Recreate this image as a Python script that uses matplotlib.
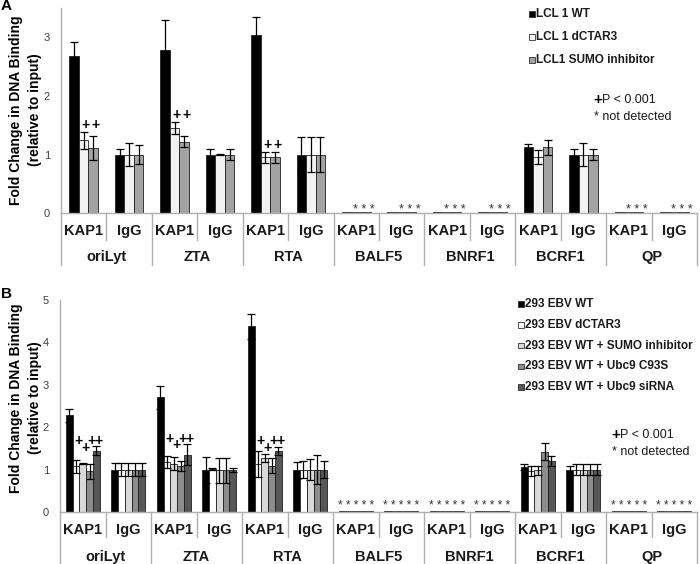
import matplotlib
matplotlib.use("Agg")
import matplotlib.pyplot as plt
from matplotlib import transforms
from matplotlib.patches import Rectangle
import numpy as np

plt.rcParams['font.family'] = ['Liberation Sans', 'DejaVu Sans']

genes = ["oriLyt", "ZTA", "RTA", "BALF5", "BNRF1", "BCRF1", "QP"]
antibodies = ["KAP1", "IgG"]

# panel A - 14 groups: (gene, antibody) pairs
a_labels = ["LCL 1 WT", "LCL 1 dCTAR3", "LCL1 SUMO inhibitor"]
a_colors = ["#000000", "#f2f2f2", "#a3a3a3"]
a_vals = [
    [2.67, 1.00, 2.77, 1.00, 3.03, 1.00, 0.015, 0.015, 0.015, 0.015, 1.13, 0.99, 0.015, 0.015],
    [1.24, 1.00, 1.45, 1.00, 0.95, 1.00, 0.015, 0.015, 0.015, 0.015, 0.95, 1.00, 0.015, 0.015],
    [1.11, 1.00, 1.22, 1.00, 0.95, 1.00, 0.015, 0.015, 0.015, 0.015, 1.12, 1.00, 0.015, 0.015],
]
a_errs = [
    [0.25, 0.10, 0.51, 0.10, 0.31, 0.30, 0, 0, 0, 0, 0.05, 0.11, 0, 0],
    [0.14, 0.20, 0.10, 0.01, 0.09, 0.30, 0, 0, 0, 0, 0.12, 0.20, 0, 0],
    [0.20, 0.17, 0.10, 0.10, 0.09, 0.30, 0, 0, 0, 0, 0.12, 0.10, 0, 0],
]
a_sig_groups = [0, 2, 4]
a_sig_series = [1, 2]
a_nd_groups = [6, 7, 8, 9, 12, 13]

# panel B
b_labels = ["293 EBV WT", "293 EBV dCTAR3", "293 EBV WT + SUMO inhibitor",
            "293 EBV WT + Ubc9 C93S", "293 EBV WT + Ubc9 siRNA"]
b_colors = ["#000000", "#ffffff", "#d9d9d9", "#8c8c8c", "#575757"]
b_vals = [
    [2.28, 1.00, 2.71, 0.99, 4.38, 0.99, 0.02, 0.02, 0.02, 0.02, 1.06, 0.98, 0.02, 0.02],
    [1.08, 1.00, 1.18, 1.01, 1.13, 1.00, 0.02, 0.02, 0.02, 0.02, 0.97, 1.00, 0.02, 0.02],
    [1.14, 1.00, 1.14, 0.98, 1.27, 1.00, 0.02, 0.02, 0.02, 0.02, 0.98, 1.00, 0.02, 0.02],
    [0.96, 1.00, 1.08, 0.98, 1.09, 1.00, 0.02, 0.02, 0.02, 0.02, 1.42, 1.00, 0.02, 0.02],
    [1.45, 1.00, 1.35, 0.99, 1.44, 1.00, 0.02, 0.02, 0.02, 0.02, 1.20, 1.00, 0.02, 0.02],
]
b_errs = [
    [0.15, 0.15, 0.27, 0.30, 0.29, 0.20, 0, 0, 0, 0, 0.08, 0.10, 0, 0],
    [0.15, 0.15, 0.15, 0.02, 0.31, 0.20, 0, 0, 0, 0, 0.12, 0.13, 0, 0],
    [0.01, 0.15, 0.15, 0.30, 0.10, 0.24, 0, 0, 0, 0, 0.10, 0.13, 0, 0],
    [0.17, 0.15, 0.12, 0.30, 0.18, 0.35, 0, 0, 0, 0, 0.20, 0.13, 0, 0],
    [0.10, 0.15, 0.25, 0.05, 0.10, 0.20, 0, 0, 0, 0, 0.12, 0.13, 0, 0],
]
b_sig_groups = [0, 2, 4]
b_sig_series = [1, 2, 3, 4]
b_nd_groups = [6, 7, 8, 9, 12, 13]

W, H = 700, 564
fig = plt.figure(figsize=(W / 100, H / 100), dpi=100)

AXIS_GREY = "#b0b0b0"
TICK_GREY = "#404040"


def px_rect(left, top, right, bottom):
    return [left / W, 1 - bottom / H, (right - left) / W, (bottom - top) / H]


def draw_panel(ax, vals, errs, colors, width, ylim, yticks,
               sig_groups, sig_series, nd_groups, stars, star_size, star_dx,
               star_y, lowered, short_px, long_px, lab1_px, lab2_px):
    n = len(vals)
    ngroups = len(vals[0])
    x = np.arange(ngroups) + 0.5
    offsets = (np.arange(n) - (n - 1) / 2) * width
    for i in range(n):
        ax.bar(x + offsets[i], vals[i], width, color=colors[i],
               edgecolor="#202020", linewidth=0.6, zorder=2)
        e = np.array(errs[i])
        m = e > 0
        ax.errorbar(x[m] + offsets[i], np.array(vals[i])[m], yerr=e[m],
                    fmt="none", ecolor="black", elinewidth=0.9,
                    capsize=3, capthick=0.9, zorder=3)

    ax.set_xlim(0, ngroups)
    ax.set_ylim(*ylim)
    ax.set_yticks(yticks)
    ax.set_xticks([])
    ax.tick_params(axis="y", length=0, pad=8, labelsize=8, labelcolor=TICK_GREY)
    for s in ["top", "right"]:
        ax.spines[s].set_visible(False)
    ax.spines["left"].set_color(AXIS_GREY)
    ax.spines["bottom"].set_color(AXIS_GREY)
    ax.spines["left"].set_linewidth(1.0)
    ax.spines["bottom"].set_linewidth(1.0)

    # significance plus signs
    for g in sig_groups:
        top = max(vals[s][g] + errs[s][g] for s in sig_series)
        for k, s in enumerate(sig_series):
            y = top + 0.13
            if lowered and k == 1:
                y -= 0.16
            ax.text(x[g] + offsets[s] + 0.05, y, "+", ha="center", va="center",
                    fontsize=10, fontweight="bold", zorder=4)

    # not detected stars
    for g in nd_groups:
        ax.text(x[g] + star_dx, star_y, stars, ha="center", va="baseline",
                fontsize=star_size, color="#333333", zorder=4)

    # category axis separators and labels
    ax_h = ax.get_position().height * H
    trans = transforms.blended_transform_factory(ax.transData, ax.transAxes)
    for k in range(ngroups + 1):
        depth = long_px if k % 2 == 0 else short_px
        ax.plot([k, k], [0, -depth / ax_h], transform=trans, color=AXIS_GREY,
                lw=1.0, clip_on=False)
    for g in range(ngroups):
        ax.text(x[g], -lab1_px / ax_h, antibodies[g % 2], transform=trans,
                ha="center", va="center", fontsize=10.5, fontweight="bold",
                color="#1a1a1a")
    for j, gene in enumerate(genes):
        ax.text(2 * j + 1, -lab2_px / ax_h, gene, transform=trans,
                ha="center", va="center", fontsize=10.5, fontweight="bold",
                color="#1a1a1a")


def draw_legend(labels, colors, x_px, y0_px, step_px, size_px=5.5):
    for i, (lab, c) in enumerate(zip(labels, colors)):
        yc = y0_px + i * step_px
        fig.patches.append(Rectangle((x_px / W, 1 - (yc + size_px / 2) / H),
                                     size_px / W, size_px / H,
                                     transform=fig.transFigure,
                                     facecolor=c, edgecolor="#303030",
                                     linewidth=0.6))
        fig.text((x_px + size_px + 1.5) / W, 1 - yc / H, lab, ha="left",
                 va="center", fontsize=8.5, fontweight="bold", color="#1a1a1a")


def draw_note(x_px, y_px):
    fig.text(x_px / W, 1 - y_px / H, "+", ha="left", va="center",
             fontsize=11, fontweight="bold")
    fig.text((x_px + 9) / W, 1 - y_px / H, "P < 0.001", ha="left",
             va="center", fontsize=9, color="#1a1a1a")
    fig.text((x_px + 1) / W, 1 - (y_px + 17) / H, "* not detected", ha="left",
             va="center", fontsize=9, color="#1a1a1a")


# panel A
axA = fig.add_axes(px_rect(61, 7.5, 697, 213.3))
draw_panel(axA, a_vals, a_errs, a_colors, 0.21, (0, 3.5), [0, 1, 2, 3],
           a_sig_groups, a_sig_series, a_nd_groups, "* * *", 9, 0.17, 0.0,
           False, 27, 52, 18, 44)

# panel B
axB = fig.add_axes(px_rect(60, 300, 697, 512))
draw_panel(axB, b_vals, b_errs, b_colors, 0.15, (0, 5), [0, 1, 2, 3, 4, 5],
           b_sig_groups, b_sig_series, b_nd_groups, "* * * * *", 8.5, 0.0, 0.07,
           True, 25, 51, 18, 45)

# y labels
for yc in (110, 398):
    fig.text(16 / W, 1 - yc / H, "Fold Change in DNA Binding", rotation=90,
             ha="center", va="center", fontsize=10, fontweight="bold")
    fig.text(35 / W, 1 - yc / H, "(relative to input)", rotation=90,
             ha="center", va="center", fontsize=10, fontweight="bold")

# panel letters
fig.text(1 / W, 1 - 6 / H, "A", ha="left", va="center", fontsize=11, fontweight="bold")
fig.text(1 / W, 1 - 294 / H, "B", ha="left", va="center", fontsize=11, fontweight="bold")

draw_legend(a_labels, a_colors, 529, 14, 23)
draw_legend(b_labels, b_colors, 518, 304, 20.8)
draw_note(593, 100)
draw_note(611, 435)

fig.savefig("out.png", dpi=100)
